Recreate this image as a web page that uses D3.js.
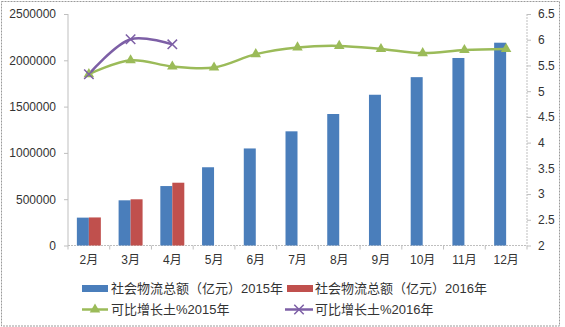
<!DOCTYPE html>
<html><head><meta charset="utf-8">
<script src="https://cdn.jsdelivr.net/npm/d3@7"></script>
<style>
html,body{margin:0;padding:0;background:#fff;}
svg{display:block;}
text{font-family:"Liberation Sans","Noto Sans CJK SC",sans-serif;fill:#333;}
</style></head>
<body>
<script>
const months = ["2月","3月","4月","5月","6月","7月","8月","9月","10月","11月","12月"];
const total2015 = [301000, 488000, 642000, 845000, 1048000, 1233000, 1420000, 1628000, 1818000, 2025000, 2190000];
const total2016 = [303000, 499000, 678000];
const growth2015 = [5.33, 5.60, 5.48, 5.46, 5.72, 5.85, 5.88, 5.82, 5.74, 5.80, 5.82];
const growth2016 = [5.33, 6.01, 5.91];
const leftTicks = [0, 500000, 1000000, 1500000, 2000000, 2500000];
const rightTicks = [2, 2.5, 3, 3.5, 4, 4.5, 5, 5.5, 6, 6.5];
const seriesNames = ["社会物流总额（亿元）2015年", "社会物流总额（亿元）2016年", "可比增长土%2015年", "可比增长土%2016年"];

const W = 565, H = 327;
const L = 68, R = 527, T = 14, B = 245.5;
const blue = "#4a7ebb", red = "#c0504d", green = "#9bbb59", purple = "#7d5fa6", axisCol = "#bfbfbf";

const svg = d3.select("body").append("svg").attr("width", W).attr("height", H);

svg.append("rect").attr("x", 1.5).attr("y", 1.5).attr("width", 558).attr("height", 324.5)
  .attr("fill", "none").attr("stroke", "#9a9a9a").attr("stroke-dasharray", "2,1");

const x = d3.scaleBand().domain(months).range([L, R]).paddingInner(0).paddingOuter(0);
const x1 = d3.scaleBand().domain(["2015", "2016"]).range([0, x.bandwidth()]).paddingInner(0).paddingOuter(0.74);
const yL = d3.scaleLinear().domain([0, 2500000]).range([B, T]);
const yR = d3.scaleLinear().domain([2, 6.5]).range([B, T]);

// Left axis
const gL = svg.append("g").attr("transform", `translate(${L},0)`)
  .call(d3.axisLeft(yL).tickValues(leftTicks).tickFormat(d3.format("d")).tickSize(4).tickPadding(8));
gL.selectAll("text").style("font-size", "12px");
// Right axis
const gR = svg.append("g").attr("transform", `translate(${R},0)`)
  .call(d3.axisRight(yR).tickValues(rightTicks).tickFormat(d => String(d)).tickSize(4).tickPadding(7));
gR.selectAll("text").style("font-size", "12px");
// Bottom axis
const gB = svg.append("g").attr("transform", `translate(0,${B})`)
  .call(d3.axisBottom(x).tickSize(0).tickPadding(10));
gB.selectAll("text").style("font-size", "12px");
const bounds = months.map(m => x(m)).concat([R]);
gB.selectAll("line.bt").data(bounds).join("line").attr("class", "bt")
  .attr("x1", d => d).attr("x2", d => d).attr("y1", 0).attr("y2", 4).attr("stroke", axisCol);
[gL, gR, gB].forEach(g => {
  g.select(".domain").attr("stroke", axisCol);
  g.selectAll(".tick line").attr("stroke", axisCol);
});
gL.select(".domain").attr("d", `M0,${T}V${B}`);
gR.select(".domain").attr("d", `M0,${T}V${B}`).attr("stroke-dasharray", "2,1");
gB.select(".domain").attr("d", `M${L},0H${R}`).attr("stroke-dasharray", "2,1");

// Bars
svg.append("g").selectAll("rect").data(total2015).join("rect")
  .attr("x", (d, i) => x(months[i]) + x1("2015")).attr("width", x1.bandwidth())
  .attr("y", d => yL(d)).attr("height", d => B - yL(d)).attr("fill", blue);
svg.append("g").selectAll("rect").data(total2016).join("rect")
  .attr("x", (d, i) => x(months[i]) + x1("2016")).attr("width", x1.bandwidth())
  .attr("y", d => yL(d)).attr("height", d => B - yL(d)).attr("fill", red);

// Lines
const cx = i => x(months[i]) + x.bandwidth() / 2;
const line = d3.line().x((d, i) => cx(i)).y(d => yR(d)).curve(d3.curveCatmullRom.alpha(0.5));
svg.append("path").datum(growth2015).attr("d", line).attr("fill", "none").attr("stroke", green).attr("stroke-width", 2.5);
svg.append("path").datum(growth2016).attr("d", line).attr("fill", "none").attr("stroke", purple).attr("stroke-width", 2.5);

const tri = d3.symbol().type(d3.symbolTriangle).size(48);
svg.append("g").selectAll("path").data(growth2015).join("path")
  .attr("d", tri).attr("transform", (d, i) => `translate(${cx(i)},${yR(d)})`).attr("fill", green);
const cross = d3.symbol().type(d3.symbolX).size(60);
svg.append("g").selectAll("path").data(growth2016).join("path")
  .attr("d", cross).attr("transform", (d, i) => `translate(${cx(i)},${yR(d)})`)
  .attr("fill", "none").attr("stroke", purple).attr("stroke-width", 1.5);

// Legend
const lg = svg.append("g").style("font-size", "13px");
const row1 = 288.5, row2 = 309.5;
lg.append("rect").attr("x", 82).attr("y", row1 - 3.5).attr("width", 26).attr("height", 7).attr("fill", blue);
lg.append("text").attr("x", 111).attr("y", row1).attr("dy", "0.35em").text(seriesNames[0]);
lg.append("rect").attr("x", 287).attr("y", row1 - 3.5).attr("width", 26).attr("height", 7).attr("fill", red);
lg.append("text").attr("x", 315).attr("y", row1).attr("dy", "0.35em").text(seriesNames[1]);
lg.append("line").attr("x1", 82).attr("x2", 108).attr("y1", row2).attr("y2", row2).attr("stroke", green).attr("stroke-width", 2.5);
lg.append("path").attr("d", tri).attr("transform", `translate(95,${row2})`).attr("fill", green);
lg.append("text").attr("x", 111).attr("y", row2).attr("dy", "0.35em").text(seriesNames[2]);
lg.append("line").attr("x1", 285).attr("x2", 313).attr("y1", row2).attr("y2", row2).attr("stroke", purple).attr("stroke-width", 2.5);
lg.append("path").attr("d", cross).attr("transform", `translate(299,${row2})`).attr("fill", "none").attr("stroke", purple).attr("stroke-width", 1.5);
lg.append("text").attr("x", 315).attr("y", row2).attr("dy", "0.35em").text(seriesNames[3]);
</script>
</body></html>
